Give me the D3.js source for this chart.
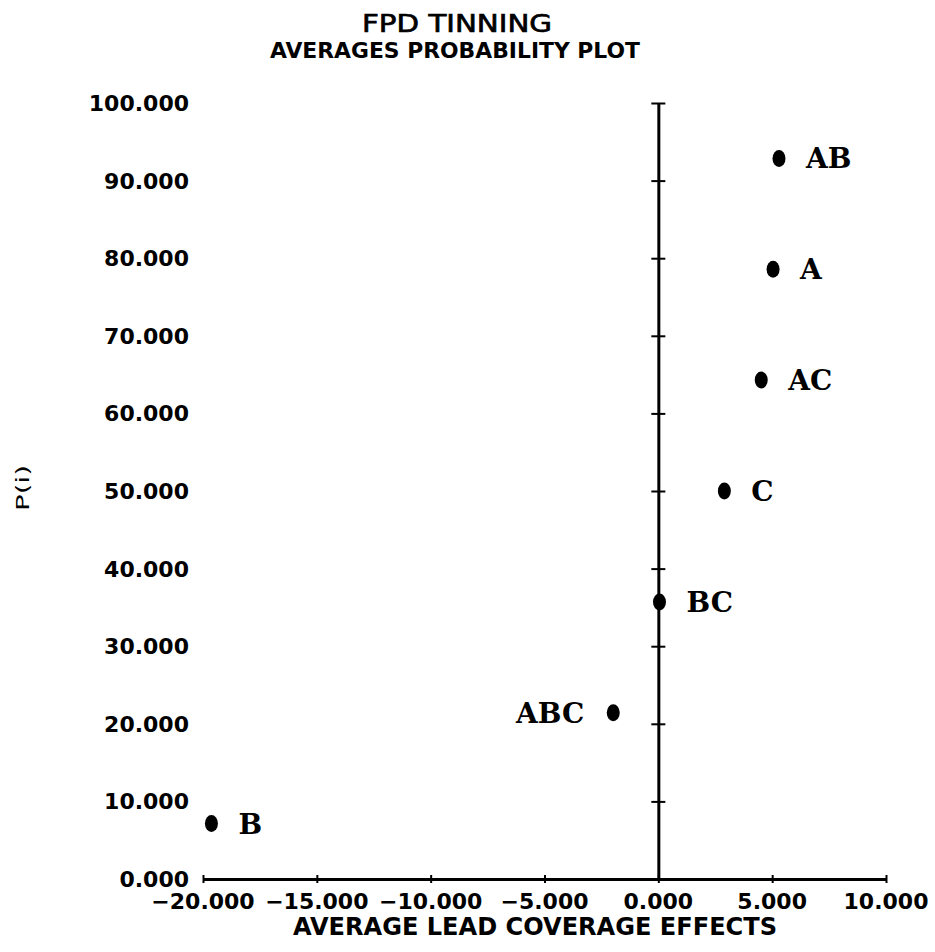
<!DOCTYPE html>
<html lang="en">
  <head>
    <meta charset="utf-8" />
    <title>FPD Tinning</title>
    <script src="https://d3js.org/d3.v7.min.js" charset="utf-8"></script>
    <style>
      body { margin: 0; background: #fff; }
      svg text { fill: #000; }
    </style>
  </head>
  <body>
    <div id="graph-container"></div>
    <script type="text/javascript">
      // effects
      const effects = ["AB", "A", "AC", "C", "BC", "ABC", "B"];
      const effectValues = [5.3, 5.04, 4.52, 2.9, 0.05, -1.98, -19.63];
      const pValues = [92.86, 78.57, 64.29, 50.0, 35.71, 21.43, 7.14];
      const labelSide = ["right", "right", "right", "right", "right", "left", "right"];

      const xTicks = [-20, -15, -10, -5, 0, 5, 10];
      const yTicks = [0, 10, 20, 30, 40, 50, 60, 70, 80, 90, 100];

      const cW = 935,
        cH = 952,
        cLeft = 203,
        cRight = 886,
        cTop = 103,
        cBottom = 879;

      const svg = d3
        .select("#graph-container")
        .append("svg")
        .attr("width", cW)
        .attr("height", cH);

      const xScale = d3.scaleLinear().domain([-20, 10]).range([cLeft, cRight]);
      const yScale = d3.scaleLinear().domain([0, 100]).range([cBottom, cTop]);
      const fmt = (v) => d3.format(".3f")(v).replace("-", "\u2212");

      //titles
      svg
        .append("text")
        .attr("x", 457)
        .attr("y", 32)
        .attr("text-anchor", "middle")
        .attr("textLength", 190)
        .attr("lengthAdjust", "spacingAndGlyphs")
        .style("font", "25px 'DejaVu Sans'")
        .style("stroke", "#000")
        .style("stroke-width", 0.7)
        .text("FPD TINNING");
      svg
        .append("text")
        .attr("x", 455)
        .attr("y", 58)
        .attr("text-anchor", "middle")
        .attr("textLength", 370)
        .attr("lengthAdjust", "spacingAndGlyphs")
        .style("font", "bold 22px 'DejaVu Sans'")
        .text("AVERAGES PROBABILITY PLOT");

      //x axis, crossing ticks
      const xAxis = d3.axisBottom(xScale).tickValues(xTicks).tickSize(4).tickSizeOuter(0).tickFormat("");
      const gx = svg
        .append("g")
        .attr("transform", `translate(0,${cBottom})`)
        .call(xAxis);
      gx.select(".domain").attr("stroke-width", 3);
      gx.selectAll(".tick line").attr("y1", -4).attr("y2", 4).attr("stroke-width", 2);

      //y axis sits on x = 0
      const yAxis = d3.axisLeft(yScale).tickValues(yTicks.slice(1)).tickSize(6).tickSizeOuter(0).tickFormat("");
      const gy = svg
        .append("g")
        .attr("transform", `translate(${xScale(0)},0)`)
        .call(yAxis);
      gy.select(".domain").attr("stroke-width", 3);
      gy.selectAll(".tick line").attr("x1", 7).attr("x2", -7).attr("stroke-width", 2);

      //tick labels
      svg
        .selectAll(".ylab")
        .data(yTicks)
        .enter()
        .append("text")
        .attr("class", "ylab")
        .attr("x", 189)
        .attr("y", (d) => yScale(d) + 8)
        .attr("text-anchor", "end")
        .style("font", "bold 22px 'DejaVu Sans'")
        .text((d) => fmt(d));

      svg
        .selectAll(".xlab")
        .data(xTicks)
        .enter()
        .append("text")
        .attr("class", "xlab")
        .attr("x", (d) => xScale(d))
        .attr("y", 909)
        .attr("text-anchor", "middle")
        .style("font", "bold 22px 'DejaVu Sans'")
        .text((d) => fmt(d));

      //axis titles
      svg
        .append("text")
        .attr("x", 535)
        .attr("y", 935)
        .attr("text-anchor", "middle")
        .attr("textLength", 484)
        .attr("lengthAdjust", "spacingAndGlyphs")
        .style("font", "bold 24px 'DejaVu Sans'")
        .text("AVERAGE LEAD COVERAGE EFFECTS");

      svg
        .append("text")
        .attr("transform", "translate(29,488) rotate(-90)")
        .attr("text-anchor", "middle")
        .attr("textLength", 46)
        .attr("lengthAdjust", "spacingAndGlyphs")
        .style("font", "18px 'DejaVu Sans'")
        .text("P(i)");

      //points
      const pts = effects.map((e, i) => ({
        name: e,
        x: effectValues[i],
        p: pValues[i],
        side: labelSide[i],
      }));

      svg
        .selectAll(".dot")
        .data(pts)
        .enter()
        .append("ellipse")
        .attr("class", "dot")
        .attr("cx", (d) => xScale(d.x))
        .attr("cy", (d) => yScale(d.p))
        .attr("rx", 6.5)
        .attr("ry", 8.5)
        .attr("fill", "#000");

      svg
        .selectAll(".plab")
        .data(pts)
        .enter()
        .append("text")
        .attr("class", "plab")
        .attr("x", (d) => xScale(d.x) + (d.side === "left" ? -29 : 27))
        .attr("y", (d) => yScale(d.p) + 10)
        .attr("text-anchor", (d) => (d.side === "left" ? "end" : "start"))
        .style("font", "bold 28px 'DejaVu Serif'")
        .text((d) => d.name);
    </script>
  </body>
</html>
